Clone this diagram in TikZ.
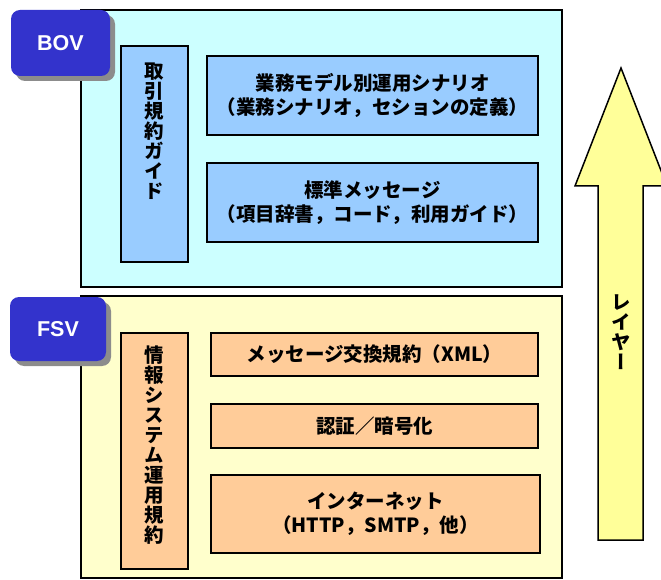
\documentclass[tikz,border=0pt]{standalone}
\usepackage{fontspec}
\usetikzlibrary{shadows}
\newfontfamily\jp{Noto Sans CJK JP}
\newfontfamily\jpv{Noto Sans CJK JP}[RawFeature=+vert]
\newfontfamily\lab{Liberation Sans}
\definecolor{bovbg}{HTML}{CCFFFF}
\definecolor{bovin}{HTML}{99CCFF}
\definecolor{fsvbg}{HTML}{FFFFCC}
\definecolor{fsvin}{HTML}{FFCC99}
\definecolor{labblue}{HTML}{3333CC}
\definecolor{arrowfill}{HTML}{FFFF99}
\tikzset{
  outerbox/.style={draw=black, line width=1.5pt, inner sep=0pt},
  innerbox/.style={draw=black, line width=1.6pt, inner sep=0pt, align=center,
    font=\jp\bfseries\fontsize{19.5}{24}\selectfont},
  vtext/.style={inner sep=0pt, align=center, font=\jpv\bfseries\fontsize{19.5}{20}\selectfont},
  layerlabel/.style={fill=labblue, rounded corners=9pt, inner sep=0pt, text=white,
    font=\lab\bfseries\fontsize{21.5}{24}\selectfont,
    drop shadow={shadow xshift=5pt, shadow yshift=-5pt, fill=gray!90, opacity=1}},
}
\begin{document}
\begin{tikzpicture}[x=1pt, y=-1pt]
\useasboundingbox (0,0) rectangle (661,580);
% BOV layer
\node[outerbox, fill=bovbg, minimum width=481pt, minimum height=277pt] (bov) at (321.5,148.5) {};
\node[innerbox, fill=bovin, minimum width=67pt, minimum height=216pt] (guide) at (154.5,154) {};
\node[vtext] (guidet) at (154.5,131) {取\\引\\規\\約\\ガ\\イ\\ド};
\node[innerbox, fill=bovin, minimum width=331pt, minimum height=79pt] (scen) at (372.5,95.5)
  {業務モデル別運用シナリオ\\（業務シナリオ，セションの定義）};
\node[innerbox, fill=bovin, minimum width=331pt, minimum height=79pt] (msg) at (372.5,202.5)
  {標準メッセージ\\（項目辞書，コード，利用ガイド）};
\node[layerlabel, minimum width=99pt, minimum height=66pt] (bovl) at (60.5,43) {BOV};
% FSV layer
\node[outerbox, fill=fsvbg, minimum width=481pt, minimum height=282pt] (fsv) at (321.5,437) {};
\node[innerbox, fill=fsvin, minimum width=67pt, minimum height=236pt] (ops) at (154.5,451) {};
\node[vtext] (opst) at (154.5,445) {情\\報\\シ\\ス\\テ\\ム\\運\\用\\規\\約};
\node[innerbox, fill=fsvin, minimum width=327pt, minimum height=43pt] (xml) at (374.5,354.5)
  {メッセージ交換規約（XML）};
\node[innerbox, fill=fsvin, minimum width=327pt, minimum height=44pt] (auth) at (374.5,426)
  {認証／暗号化};
\node[innerbox, fill=fsvin, minimum width=329pt, minimum height=78pt] (net) at (375.5,514)
  {インターネット\\（HTTP，SMTP，他）};
\node[layerlabel, minimum width=96pt, minimum height=64pt] (fsvl) at (58,329) {FSV};
% layer arrow
\draw[line width=1.5pt, fill=arrowfill, line join=miter]
  (598,540) -- (598,186) -- (575,186) -- (621,68) -- (667,186) -- (643,186) -- (643,540) -- cycle;
\node[vtext] (layert) at (621,332) {レ\\イ\\ヤ\\ー};
\end{tikzpicture}
\end{document}
